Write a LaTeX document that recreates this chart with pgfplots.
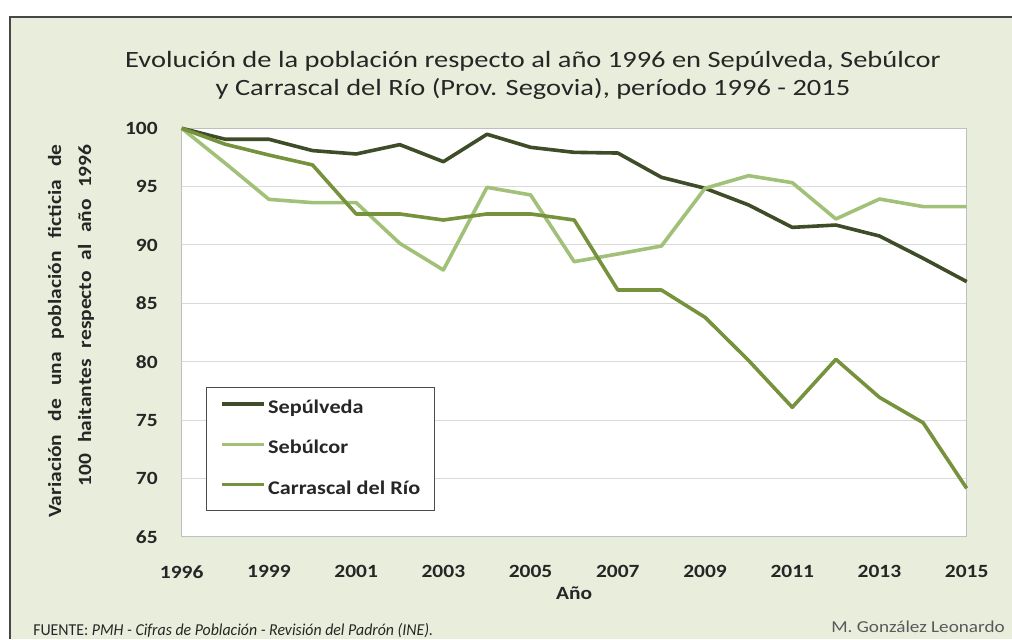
\documentclass[border=0pt]{standalone}
\usepackage{pgfplots}
\pgfplotsset{compat=1.18}
\usepackage{fontspec}
\setmainfont{Carlito}[FakeStretch=1.15]
\newfontfamily\titlefont{Carlito}[FakeStretch=1.22]
\newfontfamily\footfont{Carlito}[FakeStretch=0.95]
\definecolor{bgc}{HTML}{E9EEDC}
\definecolor{cSep}{HTML}{3E4D28}
\definecolor{cSeb}{HTML}{A2C178}
\definecolor{cCar}{HTML}{76923C}
\definecolor{txt}{HTML}{262626}
\begin{document}
\begin{tikzpicture}
\useasboundingbox (0pt,0pt) rectangle (759pt,-479.25pt);
\begin{scope}[x=0.75pt,y=-0.75pt]
\fill[white] (0,0) rectangle (1012,639);
\fill[bgc] (10,17) rectangle (1012,639);
\draw[black!72, line width=1.6pt] (10,639) -- (10,17) -- (1012,17);
\end{scope}
\begin{axis}[
  at={(136.275pt,-402.525pt)}, anchor=south west,
  scale only axis, width=588.75pt, height=306.3pt,
  xmin=0, xmax=18, ymin=65, ymax=100,
  xtick={0,2,...,18},
  xticklabels={1996,1999,2001,2003,2005,2007,2009,2011,2013,2015},
  ytick={65,70,...,100},
  ymajorgrids, grid style={draw=black!15, line width=0.75pt},
  major tick length=0pt,
  axis line style={draw=black!25, line width=0.75pt},
  axis background/.style={fill=white},
  /pgf/number format/assume math mode=true,
  tick label style={font=\fontsize{14}{16}\selectfont\bfseries, text=txt},
  xticklabel style={anchor=center, yshift=-26.25pt},
  yticklabel style={anchor=east, inner sep=0pt, xshift=-17.8pt},
  xlabel={Año},
  xlabel style={at={(axis description cs:0.5,0)}, anchor=center, yshift=-42.2pt, font=\fontsize{14}{16}\selectfont\bfseries, text=txt},
  clip=false,
  legend style={at={(0.031,0.3666)}, anchor=north west, draw=black!70, line width=0.75pt, fill=white,
    inner xsep=10.5pt, inner ysep=9.5pt, row sep=17.2pt,
    font=\fontsize{14.5}{16}\selectfont\bfseries, text=txt,
    nodes={inner sep=0pt, text height=10pt, text depth=3pt}},
  legend cell align=left,
  legend image code/.code={\draw[#1] (0pt,3.5pt) -- (31.5pt,3.5pt); \path (33pt,3.5pt);},
]
\addplot[cSep, line width=2.7pt, line join=round] coordinates {
(0,100) (1,99.06) (2,99.06) (3,98.09) (4,97.8) (5,98.6) (6,97.14) (7,99.49) (8,98.37) (9,97.94)
(10,97.88) (11,95.8) (12,94.86) (13,93.43) (14,91.51) (15,91.71) (16,90.77) (17,88.86) (18,86.86)};
\addlegendentry{Sepúlveda}
\addplot[cSeb, line width=2.7pt, line join=round] coordinates {
(0,100) (1,97.0) (2,93.91) (3,93.63) (4,93.63) (5,90.14) (6,87.86) (7,94.94) (8,94.29) (9,88.57)
(10,89.23) (11,89.91) (12,94.86) (13,95.94) (14,95.34) (15,92.23) (16,93.94) (17,93.29) (18,93.29)};
\addlegendentry{Sebúlcor}
\addplot[cCar, line width=2.7pt, line join=round] coordinates {
(0,100) (1,98.63) (2,97.71) (3,96.86) (4,92.66) (5,92.66) (6,92.14) (7,92.66) (8,92.66) (9,92.14)
(10,86.14) (11,86.14) (12,83.8) (13,80.1) (14,76.09) (15,80.2) (16,76.94) (17,74.77) (18,69.14)};
\addlegendentry{Carrascal del Río\hspace{4pt}}
\end{axis}
\begin{scope}[x=0.75pt,y=-0.75pt]
\node[anchor=base, font=\titlefont\fontsize{17.5}{21}\selectfont, text=txt] at (533,67)
  {Evolución de la población respecto al año 1996 en Sepúlveda, Sebúlcor};
\node[anchor=base, font=\titlefont\fontsize{17.5}{21}\selectfont, text=txt] at (533,95)
  {y Carrascal del Río (Prov. Segovia), período 1996 - 2015};
\node[rotate=90, align=right, inner sep=0pt, font=\fontsize{14}{22.5}\selectfont\bfseries, text=txt] at (71,331)
  {\makebox[279.75pt][s]{Variación de una población ficticia de}\\\makebox[256.5pt][s]{100 haitantes respecto al año 1996}};
\node[anchor=base west, inner sep=0pt, font=\footfont\fontsize{12.5}{15}\selectfont, text=txt] at (33,635)
  {FUENTE: \textit{PMH - Cifras de Población - Revisión del Padrón (INE).}};
\node[anchor=base east, inner sep=0pt, font=\fontsize{12.5}{15}\selectfont, text=black!65] at (1005,632)
  {M. González Leonardo};
\end{scope}
\end{tikzpicture}
\end{document}
